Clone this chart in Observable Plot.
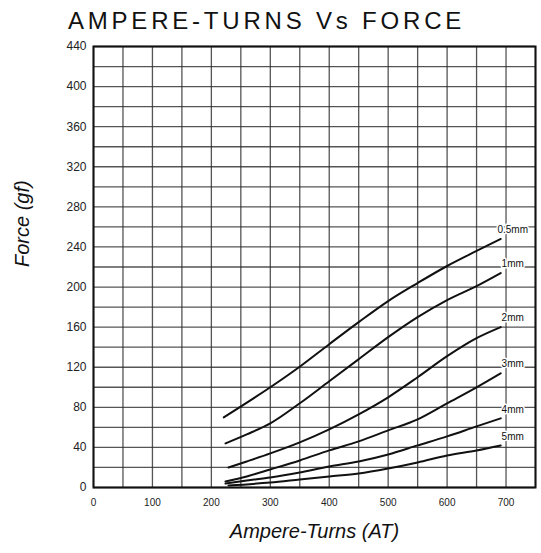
<!DOCTYPE html>
<html>
<head>
<meta charset="utf-8">
<script src="https://cdn.jsdelivr.net/npm/d3@7"></script>
<script src="https://cdn.jsdelivr.net/npm/@observablehq/plot@0.6"></script>
<style>
  html, body { margin: 0; padding: 0; background: #fff; }
  #wrap { width: 541px; height: 553px; position: relative; overflow: hidden; }
  #title { height: 36px; line-height: 42px; text-align: center; font-family: "Liberation Sans", Arial, sans-serif;
           font-size: 24px; letter-spacing: 3.8px; color: #111; padding-right: 8px; }
  svg { display: block; }
</style>
</head>
<body>
<div id="wrap">
  <div id="title">AMPERE-TURNS Vs FORCE</div>
  <div id="chart"></div>
</div>
<script>
const titleText = "AMPERE-TURNS Vs FORCE";
const xLabel = "Ampere-Turns (AT)";
const yLabel = "Force (gf)";
const xTicks = [0, 100, 200, 300, 400, 500, 600, 700];
const yTicks = [0, 40, 80, 120, 160, 200, 240, 280, 320, 360, 400, 440];
const gapLabels = ["0.5mm", "1mm", "2mm", "3mm", "4mm", "5mm"];

const at05 = [221, 300, 351, 400, 450, 500, 550, 600, 650, 691];
const f05  = [70, 100, 121, 143, 165, 186, 204, 221, 236, 248];
const at1  = [224, 260, 300, 350, 400, 450, 500, 550, 600, 650, 691];
const f1   = [44, 53, 64, 84, 106, 128, 150, 170, 187, 201, 214];
const at2  = [229, 260, 300, 350, 400, 450, 500, 550, 600, 650, 691];
const f2   = [20, 26, 34, 45, 58, 73, 90, 110, 131, 149, 160];
const at3  = [224, 260, 300, 350, 400, 450, 500, 550, 600, 650, 691];
const f3   = [6, 11, 18, 27, 37, 46, 57, 68, 84, 100, 114];
const at4  = [224, 260, 300, 350, 400, 450, 500, 550, 600, 650, 691];
const f4   = [4, 7, 10, 15, 21, 26, 33, 42, 51, 61, 69];
const at5  = [229, 300, 350, 400, 450, 500, 550, 600, 650, 691];
const f5   = [2, 5, 8, 11, 14, 19, 25, 32, 37, 42];

const seriesAT = [at05, at1, at2, at3, at4, at5];
const seriesF = [f05, f1, f2, f3, f4, f5];

const points = [];
seriesAT.forEach((xs, i) => xs.forEach((x, j) => points.push({gap: gapLabels[i], at: x, force: seriesF[i][j]})));
const ends = seriesAT.map((xs, i) => ({gap: gapLabels[i], at: xs[xs.length - 1], force: seriesF[i][seriesF[i].length - 1]}));

const gridX = d3.range(0, 751, 50);
const gridY = d3.range(0, 441, 20);

const chart = Plot.plot({
  width: 541,
  height: 517,
  marginLeft: 93,
  marginRight: 6,
  marginTop: 10,
  marginBottom: 66,
  style: {fontFamily: "Liberation Sans, Arial, sans-serif", background: "#fff", color: "#111"},
  x: {domain: [0, 750], label: null},
  y: {domain: [0, 440], label: null},
  marks: [
    Plot.ruleX(gridX, {stroke: "#2a2a2a", strokeWidth: 1.3, strokeOpacity: 0.8}),
    Plot.ruleY(gridY, {stroke: "#2a2a2a", strokeWidth: 1.3, strokeOpacity: 0.8}),
    Plot.frame({stroke: "#111", strokeWidth: 2}),
    Plot.axisX(xTicks, {tickSize: 0, tickPadding: 11, fontSize: 10, fill: "#222", style: "letter-spacing:1.8px"}),
    Plot.axisY(yTicks, {tickSize: 0, tickPadding: 7, fontSize: 12, fill: "#222", style: "letter-spacing:2px"}),
    Plot.line(points, {x: "at", y: "force", z: "gap", stroke: "#111", strokeWidth: 2, curve: "monotone-x"}),
    Plot.text(ends, {x: "at", y: "force", text: "gap", textAnchor: "middle", dx: 12, dy: -9, fontSize: 10, fill: "#111", stroke: "#fff", strokeWidth: 3, paintOrder: "stroke", style: "letter-spacing:0.8px"}),
    Plot.text([xLabel], {frameAnchor: "bottom", dy: 50, fontSize: 20, fontStyle: "italic", fill: "#111", style: "letter-spacing:0.8px"}),
    Plot.text([yLabel], {frameAnchor: "left", dx: -71, rotate: -90, fontSize: 20, fontStyle: "italic", fill: "#111", style: "letter-spacing:1px"})
  ]
});
document.getElementById("chart").appendChild(chart);
</script>
</body>
</html>
